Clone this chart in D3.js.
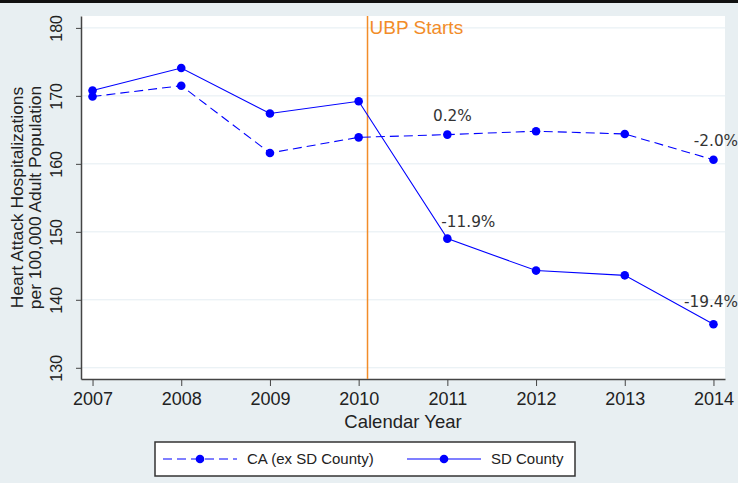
<!DOCTYPE html>
<html>
<head>
<meta charset="utf-8">
<script src="https://cdn.jsdelivr.net/npm/d3@7"></script>
<style>
  body { margin: 0; background: #e8eff2; }
  svg { display: block; font-family: "Liberation Sans", Arial, sans-serif; }
</style>
</head>
<body>
<div id="chart"></div>
<script>
var svgWidth = 738;
var svgHeight = 483;

var margin = { top: 16, right: 13, bottom: 104, left: 81 };
var plotWidth = svgWidth - margin.left - margin.right;
var plotHeight = svgHeight - margin.top - margin.bottom;

// data
var years = [2007, 2008, 2009, 2010, 2011, 2012, 2013, 2014];
var caValues = [169.9, 171.5, 161.6, 163.9, 164.3, 164.8, 164.4, 160.6];
var sdValues = [170.8, 174.1, 167.4, 169.2, 149.0, 144.3, 143.6, 136.4];
var yTicks = [130, 140, 150, 160, 170, 180];
var ubpYear = 2010.1;
var labelSeries = ["ca", "ca", "sd", "sd"];
var labelYears = [2011, 2014, 2011, 2014];
var labelTexts = ["0.2%", "-2.0%", "-11.9%", "-19.4%"];

// where each label sits relative to its point (layout, not data)
var labelOffsets = [[5, -14], [2.5, -14], [21, -12], [-2.5, -17]];

var svg = d3.select("#chart")
  .append("svg")
  .attr("width", svgWidth)
  .attr("height", svgHeight);

// top black rule
svg.append("rect").attr("x", 0).attr("y", 0).attr("width", svgWidth).attr("height", 3).attr("fill", "#111");

var plot = svg.append("g")
  .attr("transform", `translate(${margin.left}, ${margin.top})`);

plot.append("rect")
  .attr("width", plotWidth)
  .attr("height", plotHeight)
  .attr("fill", "#fff");

var x = d3.scaleLinear().domain([2006.87, 2014.13]).range([0, plotWidth]);
var y = d3.scaleLinear().domain([128.35, 181.75]).range([plotHeight, 0]);

// gridlines
plot.selectAll(".grid")
  .data(yTicks)
  .enter()
  .append("line")
  .attr("x1", 0)
  .attr("x2", plotWidth)
  .attr("y1", d => y(d))
  .attr("y2", d => y(d))
  .attr("stroke", "#e4edf2")
  .attr("stroke-width", 1);

// axes
var leftAxis = d3.axisLeft(y).tickValues(yTicks).tickSize(5).tickSizeOuter(0);
var bottomAxis = d3.axisBottom(x).tickValues(years).tickFormat(d3.format("d")).tickSize(7).tickSizeOuter(0).tickPadding(6);

var gy = plot.append("g").call(leftAxis);
gy.selectAll("text")
  .attr("transform", "rotate(-90)")
  .attr("x", 0)
  .attr("y", -25)
  .attr("dy", "0.35em")
  .style("text-anchor", "middle")
  .style("font-size", "16px")
  .attr("fill", "#222");

var gx = plot.append("g").attr("transform", `translate(0, ${plotHeight})`).call(bottomAxis);
gx.selectAll("text").style("font-size", "18px").attr("fill", "#222");

[gx, gy].forEach(function(g) {
  g.select(".domain").attr("stroke", "#444").attr("stroke-width", 1.5);
  g.selectAll(".tick line").attr("stroke", "#444");
});

// UBP vertical line
plot.append("line")
  .attr("x1", x(ubpYear)).attr("x2", x(ubpYear))
  .attr("y1", 0).attr("y2", plotHeight)
  .attr("stroke", "#f28c28")
  .attr("stroke-width", 1.5);

plot.append("text")
  .attr("x", x(ubpYear) + 2)
  .attr("y", 18)
  .style("font-size", "19px")
  .attr("fill", "#f28c28")
  .text("UBP Starts");

// series
var series = [
  { key: "ca", values: caValues, dash: "9,5" },
  { key: "sd", values: sdValues, dash: null }
];

var line = d3.line()
  .x((d, i) => x(years[i]))
  .y(d => y(d));

series.forEach(function(s) {
  plot.append("path")
    .datum(s.values)
    .attr("d", line)
    .attr("fill", "none")
    .attr("stroke", "#0000ff")
    .attr("stroke-width", 1.1)
    .attr("stroke-dasharray", s.dash);

  plot.selectAll(".pt-" + s.key)
    .data(s.values)
    .enter()
    .append("circle")
    .attr("cx", (d, i) => x(years[i]))
    .attr("cy", d => y(d))
    .attr("r", 4.3)
    .attr("fill", "#0000ff");
});

// percentage labels
var byKey = { ca: caValues, sd: sdValues };
plot.selectAll(".pct")
  .data(labelTexts)
  .enter()
  .append("text")
  .attr("x", (d, i) => x(labelYears[i]) + labelOffsets[i][0])
  .attr("y", (d, i) => y(byKey[labelSeries[i]][years.indexOf(labelYears[i])]) + labelOffsets[i][1])
  .style("font-family", "'DejaVu Sans', sans-serif")
  .style("font-size", "15.3px")
  .style("text-anchor", "middle")
  .attr("fill", "#333")
  .text(d => d);

// axis titles
svg.append("text")
  .attr("x", margin.left + plotWidth / 2)
  .attr("y", 428)
  .style("font-size", "18.5px")
  .style("text-anchor", "middle")
  .attr("fill", "#222")
  .text("Calendar Year");

var yTitle = svg.append("text")
  .attr("transform", `translate(23, ${margin.top + plotHeight / 2}) rotate(-90)`)
  .style("font-size", "17.4px")
  .style("text-anchor", "middle")
  .attr("fill", "#222");
yTitle.append("tspan").attr("x", 0).attr("dy", 0).text("Heart Attack Hospitalizations");
yTitle.append("tspan").attr("x", 0).attr("dy", "1.02em").text("per 100,000 Adult Population");

// legend
var legend = svg.append("g").attr("transform", "translate(155, 442)");
legend.append("rect")
  .attr("width", 420)
  .attr("height", 34)
  .attr("fill", "#fff")
  .attr("stroke", "#333")
  .attr("stroke-width", 1.5);

var legendItems = [
  { name: "CA (ex SD County)", dash: "9,5", x0: 8 },
  { name: "SD County", dash: null, x0: 252 }
];

legendItems.forEach(function(it) {
  var g = legend.append("g").attr("transform", `translate(${it.x0}, 17)`);
  g.append("line")
    .attr("x1", 0).attr("x2", 74)
    .attr("stroke", "#0000ff")
    .attr("stroke-width", 1.1)
    .attr("stroke-dasharray", it.dash);
  g.append("circle").attr("cx", 37).attr("r", 4.3).attr("fill", "#0000ff");
  g.append("text")
    .attr("x", 84)
    .attr("dy", "0.35em")
    .style("font-size", "15px")
    .attr("fill", "#222")
    .text(it.name);
});
</script>
</body>
</html>
